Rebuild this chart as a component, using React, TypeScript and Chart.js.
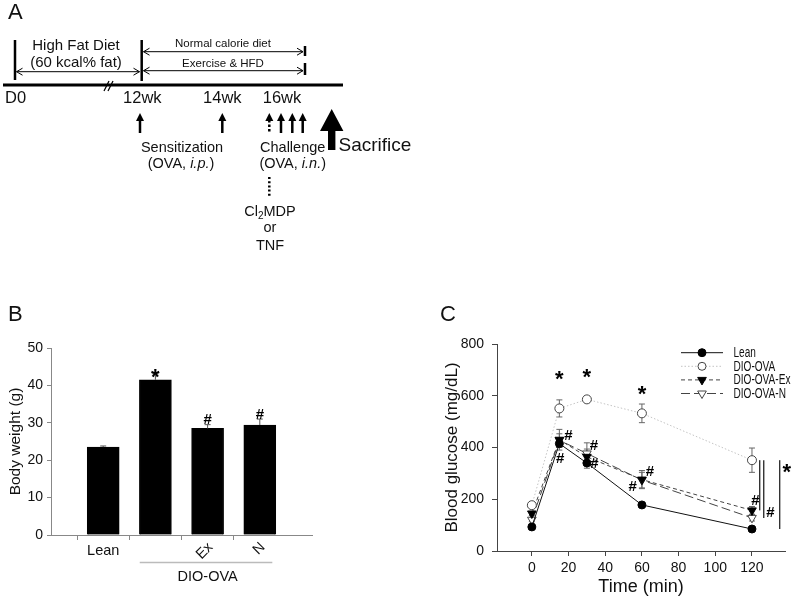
import React, { useEffect, useRef } from 'react';
import { Chart, registerables } from 'chart.js';

Chart.register(...registerables);

const FONT = '"Liberation Sans", Arial, Helvetica, sans-serif';

// ---------- Panel B data ----------
const bCategories = ['', 'Lean', '', 'Ex', 'N', ''];
const bBodyWeight = [null, 23.5, 41.5, 28.5, 29.4, null];
const bBodyWeightSem = [0, 0.3, 1.6, 1.0, 1.6, 0];
const bYTicks = [0, 10, 20, 30, 40, 50];
const bMarkText = ['*', '#', '#'];
const bMarkIndex = [2, 3, 4];
const bMarkValue = [43.7, 31.2, 32.5];
const bGroupLabel = 'DIO-OVA';
const bGroupSpan = [1.7, 4.24];

// ---------- Panel C data ----------
const cTimes = [0, 15, 30, 60, 120];
const cTimeTicks = [0, 20, 40, 60, 80, 100, 120];
const cGlucoseTicks = [0, 200, 400, 600, 800];
const cSeriesLabels = ['Lean', 'DIO-OVA', 'DIO-OVA-Ex', 'DIO-OVA-N'];
const leanGlucose = [93, 415, 340, 178, 85];
const leanSem = [5, 15, 20, 6, 5];
const dioGlucose = [177, 551, 586, 532, 351];
const dioSem = [8, 33, 8, 36, 47];
const exGlucose = [145, 430, 364, 276, 157];
const exSem = [8, 40, 30, 35, 15];
const nGlucose = [121, 428, 377, 274, 128];
const nSem = [8, 25, 41, 30, 12];
const cMarkText = ['*', '*', '*', '#', '#', '#', '#', '#', '#', '#', '#', '*'];
const cMarkX = [15, 30, 60, 19.9, 15.4, 33.9, 34.1, 64.4, 55, 121.9, 130, 139];
const cMarkY = [684, 693, 628, 448, 362, 412, 341, 312, 254, 200, 151, 325];
const cBracketX = [124.2, 126.4, 135.1];
const cBracketTo = [exGlucose[4], nGlucose[4], leanGlucose[4]];

function glyphBaseline(text: string, center: number) {
  return text === '*' ? center + 12 : center + 5.3;
}

function drawMarker(ctx: CanvasRenderingContext2D, style: string, x: number, y: number, r: number, fill: string, stroke: string) {
  ctx.save();
  ctx.setLineDash([]);
  ctx.fillStyle = fill;
  ctx.strokeStyle = stroke;
  ctx.lineWidth = 1;
  ctx.beginPath();
  if (style === 'circle') {
    ctx.arc(x, y, r, 0, Math.PI * 2);
  } else {
    ctx.moveTo(x, y + r);
    ctx.lineTo(x - r * 0.866, y - r * 0.5);
    ctx.lineTo(x + r * 0.866, y - r * 0.5);
    ctx.closePath();
  }
  ctx.fill();
  ctx.stroke();
  ctx.restore();
}

const bPlugin = {
  id: 'bExtras',
  afterDatasetsDraw(chart: any) {
    const { ctx } = chart;
    const x = chart.scales.x;
    const y = chart.scales.y;
    ctx.save();
    ctx.strokeStyle = '#555';
    ctx.lineWidth = 1;
    bBodyWeight.forEach((v, i) => {
      if (v == null || !bBodyWeightSem[i]) return;
      const px = x.getPixelForValue(i);
      const y0 = y.getPixelForValue(v);
      const y1 = y.getPixelForValue(v + bBodyWeightSem[i]);
      ctx.beginPath();
      ctx.moveTo(px, y0);
      ctx.lineTo(px, y1);
      ctx.moveTo(px - 3, y1);
      ctx.lineTo(px + 3, y1);
      ctx.stroke();
    });
    ctx.fillStyle = '#000';
    ctx.textAlign = 'center';
    ctx.textBaseline = 'alphabetic';
    bMarkText.forEach((t, k) => {
      ctx.font = t === '*' ? `bold 22px ${FONT}` : `bold 15px ${FONT}`;
      const px = x.getPixelForValue(bMarkIndex[k]);
      const py = y.getPixelForValue(bMarkValue[k]);
      ctx.fillText(t, px, glyphBaseline(t, py));
    });
    ctx.fillStyle = '#111';
    ctx.font = `14.5px ${FONT}`;
    bCategories.forEach((lab, i) => {
      if (!lab) return;
      const px = x.getPixelForValue(i);
      if (i >= 3) {
        ctx.save();
        ctx.translate(px + 3, y.bottom + 10);
        ctx.rotate(-Math.PI / 4);
        ctx.textAlign = 'right';
        ctx.textBaseline = 'middle';
        ctx.fillText(lab, 0, 0);
        ctx.restore();
      } else {
        ctx.textAlign = 'center';
        ctx.textBaseline = 'alphabetic';
        ctx.fillText(lab, px, y.bottom + 19.5);
      }
    });
    ctx.strokeStyle = '#bbb';
    ctx.lineWidth = 1.5;
    ctx.beginPath();
    ctx.moveTo(x.getPixelForValue(bGroupSpan[0]), y.bottom + 27.5);
    ctx.lineTo(x.getPixelForValue(bGroupSpan[1]), y.bottom + 27.5);
    ctx.stroke();
    ctx.fillStyle = '#111';
    ctx.textAlign = 'center';
    ctx.textBaseline = 'alphabetic';
    ctx.font = `14.5px ${FONT}`;
    ctx.fillText(bGroupLabel, x.getPixelForValue((bGroupSpan[0] + bGroupSpan[1]) / 2 + 0.03), y.bottom + 45.5);
    ctx.restore();
  },
};

const cSeries = [leanGlucose, dioGlucose, exGlucose, nGlucose];
const cSems = [leanSem, dioSem, exSem, nSem];
const cMarkerStyle = ['circle', 'circle', 'tri', 'tri'];
const cMarkerFill = ['#000', '#fff', '#000', '#fff'];
const cMarkerStroke = ['#000', '#444', '#000', '#444'];

const cPlugin = {
  id: 'cExtras',
  beforeDatasetsDraw(chart: any) {
    const { ctx } = chart;
    const x = chart.scales.x;
    const y = chart.scales.y;
    ctx.save();
    ctx.strokeStyle = '#666';
    ctx.lineWidth = 1;
    cSeries.forEach((vals, s) => {
      vals.forEach((v, i) => {
        const e = cSems[s][i];
        if (!e) return;
        const px = x.getPixelForValue(cTimes[i]);
        const yt = y.getPixelForValue(v + e);
        const yb = y.getPixelForValue(v - e);
        ctx.beginPath();
        ctx.moveTo(px, yt);
        ctx.lineTo(px, yb);
        ctx.moveTo(px - 3, yt);
        ctx.lineTo(px + 3, yt);
        ctx.moveTo(px - 3, yb);
        ctx.lineTo(px + 3, yb);
        ctx.stroke();
      });
    });
    ctx.restore();
  },
  afterDraw(chart: any) {
    const { ctx, chartArea } = chart;
    const x = chart.scales.x;
    const y = chart.scales.y;
    ctx.save();
    ctx.strokeStyle = '#333';
    ctx.lineWidth = 1.4;
    cBracketX.forEach((bx, k) => {
      const px = x.getPixelForValue(bx);
      ctx.beginPath();
      ctx.moveTo(px, y.getPixelForValue(dioGlucose[4]));
      ctx.lineTo(px, y.getPixelForValue(cBracketTo[k]));
      ctx.stroke();
    });
    ctx.fillStyle = '#000';
    ctx.textAlign = 'center';
    ctx.textBaseline = 'alphabetic';
    cMarkText.forEach((t, k) => {
      ctx.font = t === '*' ? `bold 22px ${FONT}` : `bold 15px ${FONT}`;
      const px = x.getPixelForValue(cMarkX[k]);
      const py = y.getPixelForValue(cMarkY[k]);
      ctx.fillText(t, px, glyphBaseline(t, py));
    });
    const ds = chart.data.datasets;
    const lx0 = chartArea.left + 184;
    const lx1 = chartArea.left + 226;
    ds.forEach((d: any, i: number) => {
      const ly = chartArea.top + 8.7 + i * 13.6;
      ctx.save();
      ctx.strokeStyle = d.borderColor;
      ctx.lineWidth = d.borderWidth;
      ctx.setLineDash(d.borderDash || []);
      ctx.beginPath();
      ctx.moveTo(lx0, ly);
      ctx.lineTo(lx1, ly);
      ctx.stroke();
      ctx.restore();
      drawMarker(ctx, cMarkerStyle[i], (lx0 + lx1) / 2, ly, cMarkerStyle[i] === 'circle' ? 4 : 5, cMarkerFill[i], cMarkerStroke[i]);
      ctx.save();
      ctx.fillStyle = '#111';
      ctx.font = `14px ${FONT}`;
      ctx.textAlign = 'left';
      ctx.textBaseline = 'middle';
      ctx.translate(chartArea.left + 236.5, ly + 0.5);
      ctx.scale(0.72, 1);
      ctx.fillText(d.label, 0, 0);
      ctx.restore();
    });
    ctx.restore();
  },
};

function UpArrow({ x, dashed }: { x: number; dashed?: boolean }) {
  return (
    <g>
      <line x1={x} y1={120} x2={x} y2={133} stroke="#000" strokeWidth={2.5} strokeDasharray={dashed ? '2.5 2' : undefined} />
      <polygon points={`${x},113 ${x - 4},121 ${x + 4},121`} fill="#000" />
    </g>
  );
}

function DoubleArrow({ x1, x2, y }: { x1: number; x2: number; y: number }) {
  return (
    <g stroke="#000" strokeWidth={1} fill="none">
      <line x1={x1} y1={y} x2={x2} y2={y} />
      <path d={`M${x1 + 6} ${y - 3.5} L${x1} ${y} L${x1 + 6} ${y + 3.5}`} />
      <path d={`M${x2 - 6} ${y - 3.5} L${x2} ${y} L${x2 - 6} ${y + 3.5}`} />
    </g>
  );
}

export default function App() {
  const bRef = useRef<HTMLCanvasElement>(null);
  const cRef = useRef<HTMLCanvasElement>(null);

  useEffect(() => {
    const chartB = new Chart(bRef.current as HTMLCanvasElement, {
      type: 'bar',
      data: {
        labels: bCategories,
        datasets: [
          {
            label: 'Body weight (g)',
            data: bBodyWeight as any,
            backgroundColor: '#000',
            borderColor: '#000',
            borderWidth: 1,
            barThickness: 32,
          },
        ],
      },
      options: {
        animation: false,
        responsive: true,
        maintainAspectRatio: false,
        layout: { padding: { left: 0, right: 88, top: 48, bottom: 0 } },
        plugins: { legend: { display: false }, tooltip: { enabled: false } },
        scales: {
          x: {
            type: 'category',
            offset: false,
            ticks: { display: false },
            grid: {
              display: true,
              drawOnChartArea: false,
              drawTicks: true,
              tickLength: 5,
              color: '#888',
              tickColor: (c: any) => (c.index === 0 || c.index === bCategories.length - 1 ? 'rgba(0,0,0,0)' : '#888'),
            },
            border: { color: '#888', width: 1 },
            afterFit: (s: any) => {
              s.height = 67;
            },
          },
          y: {
            min: 0,
            max: 50,
            afterBuildTicks: (s: any) => {
              s.ticks = bYTicks.map((v) => ({ value: v }));
            },
            ticks: { color: '#111', font: { family: FONT, size: 14 }, padding: 4 },
            grid: { drawOnChartArea: false, tickLength: 4, color: '#888' },
            border: { color: '#888', width: 1 },
            title: {
              display: true,
              text: 'Body weight (g)',
              color: '#111',
              font: { family: FONT, size: 15.5 },
              padding: { top: 6, bottom: 0 },
            },
            afterFit: (s: any) => {
              s.width = 51;
            },
          },
        },
      } as any,
      plugins: [bPlugin],
    });

    const pts = (vals: number[]) => cTimes.map((t, i) => ({ x: t, y: vals[i] }));
    const chartC = new Chart(cRef.current as HTMLCanvasElement, {
      type: 'line',
      data: {
        datasets: [
          {
            label: cSeriesLabels[0],
            data: pts(leanGlucose),
            borderColor: '#111',
            borderWidth: 1,
            pointStyle: 'circle',
            pointRadius: 4,
            pointBackgroundColor: '#000',
            pointBorderColor: '#000',
            pointBorderWidth: 1,
          },
          {
            label: cSeriesLabels[1],
            data: pts(dioGlucose),
            borderColor: '#c4c4c4',
            borderDash: [1.5, 2],
            borderWidth: 1,
            pointStyle: 'circle',
            pointRadius: 4.5,
            pointBackgroundColor: '#fff',
            pointBorderColor: '#444',
            pointBorderWidth: 1,
          },
          {
            label: cSeriesLabels[2],
            data: pts(exGlucose),
            borderColor: '#444',
            borderDash: [4, 3],
            borderWidth: 1,
            pointStyle: 'triangle',
            pointRotation: 180,
            pointRadius: 5,
            pointBackgroundColor: '#000',
            pointBorderColor: '#000',
            pointBorderWidth: 1,
          },
          {
            label: cSeriesLabels[3],
            data: pts(nGlucose),
            borderColor: '#444',
            borderDash: [9, 4],
            borderWidth: 1,
            pointStyle: 'triangle',
            pointRotation: 180,
            pointRadius: 5,
            pointBackgroundColor: '#fff',
            pointBorderColor: '#444',
            pointBorderWidth: 1,
          },
        ],
      },
      options: {
        animation: false,
        responsive: true,
        maintainAspectRatio: false,
        layout: { padding: { left: 0, right: 15, top: 44, bottom: 0 } },
        plugins: { legend: { display: false }, tooltip: { enabled: false } },
        scales: {
          x: {
            type: 'linear',
            min: -19,
            max: 138,
            afterBuildTicks: (s: any) => {
              s.ticks = cTimeTicks.map((v) => ({ value: v }));
            },
            ticks: { color: '#111', font: { family: FONT, size: 14 }, padding: 4 },
            grid: { drawOnChartArea: false, tickLength: 5, color: '#444' },
            border: { color: '#444', width: 1 },
            title: {
              display: true,
              text: 'Time (min)',
              color: '#111',
              font: { family: FONT, size: 18 },
              padding: { top: 0, bottom: 4 },
            },
            afterFit: (s: any) => {
              s.height = 51;
            },
          },
          y: {
            min: 0,
            max: 800,
            afterBuildTicks: (s: any) => {
              s.ticks = cGlucoseTicks.map((v) => ({ value: v }));
            },
            ticks: { color: '#111', font: { family: FONT, size: 14 }, padding: 8 },
            grid: { drawOnChartArea: false, tickLength: 5, color: '#444' },
            border: { color: '#444', width: 1 },
            title: {
              display: true,
              text: 'Blood glucose (mg/dL)',
              color: '#111',
              font: { family: FONT, size: 17 },
              padding: { top: 42, bottom: 0 },
            },
            afterFit: (s: any) => {
              s.width = 97;
            },
          },
        },
      } as any,
      plugins: [cPlugin],
    });

    return () => {
      chartB.destroy();
      chartC.destroy();
    };
  }, []);

  return (
    <div style={{ position: 'fixed', left: 0, top: 0, width: 800, height: 602, background: '#fff', overflow: 'hidden' }}>
      <div style={{ position: 'absolute', left: 0, top: 300, width: 400, height: 302 }}>
        <canvas ref={bRef} />
      </div>
      <div style={{ position: 'absolute', left: 400, top: 300, width: 400, height: 302 }}>
        <canvas ref={cRef} />
      </div>
      <svg
        width={800}
        height={602}
        style={{ position: 'absolute', left: 0, top: 0, pointerEvents: 'none' }}
        fontFamily={FONT}
        fill="#111"
      >
        <text x={8} y={19} fontSize={22}>A</text>
        <text x={8} y={321} fontSize={22}>B</text>
        <text x={440} y={321} fontSize={22}>C</text>

        <line x1={3} y1={85} x2={343} y2={85} stroke="#000" strokeWidth={3} />
        <line x1={15} y1={40} x2={15} y2={80} stroke="#000" strokeWidth={2.5} />
        <line x1={141.7} y1={40} x2={141.7} y2={81} stroke="#000" strokeWidth={2.5} />
        <line x1={305} y1={46} x2={305} y2={56} stroke="#000" strokeWidth={2.5} />
        <line x1={305} y1={63} x2={305} y2={75} stroke="#000" strokeWidth={2.5} />
        <line x1={104} y1={91} x2={109} y2={81} stroke="#000" strokeWidth={1.2} />
        <line x1={108} y1={91} x2={113} y2={81} stroke="#000" strokeWidth={1.2} />

        <DoubleArrow x1={16.5} x2={139.5} y={71.7} />
        <DoubleArrow x1={143.5} x2={303} y={51.7} />
        <DoubleArrow x1={143.5} x2={303} y={70.7} />

        <text x={76} y={50} fontSize={15} textAnchor="middle">High Fat Diet</text>
        <text x={76} y={66.5} fontSize={15} textAnchor="middle">(60 kcal% fat)</text>
        <text x={223} y={47} fontSize={11.5} textAnchor="middle">Normal calorie diet</text>
        <text x={223} y={66.5} fontSize={11.5} textAnchor="middle">Exercise &amp; HFD</text>

        <text x={5} y={102.5} fontSize={16.5}>D0</text>
        <text x={142.3} y={102.5} fontSize={16.5} textAnchor="middle">12wk</text>
        <text x={222.3} y={102.5} fontSize={16.5} textAnchor="middle">14wk</text>
        <text x={282} y={102.5} fontSize={16.5} textAnchor="middle">16wk</text>

        <UpArrow x={140} />
        <UpArrow x={222.3} />
        <UpArrow x={269.3} dashed />
        <UpArrow x={281} />
        <UpArrow x={292.3} />
        <UpArrow x={302.7} />

        <polygon points="331.7,109 320,131 328,131 328,150 335.4,150 335.4,131 343.4,131" fill="#000" />
        <text x={338.5} y={151} fontSize={19}>Sacrifice</text>

        <text x={182} y={152} fontSize={14.5} textAnchor="middle">Sensitization</text>
        <text x={181} y={168} fontSize={14.5} textAnchor="middle">
          (OVA, <tspan fontStyle="italic">i.p.</tspan>)
        </text>
        <text x={292.7} y={152} fontSize={14.5} textAnchor="middle">Challenge</text>
        <text x={292.7} y={168} fontSize={14.5} textAnchor="middle">
          (OVA, <tspan fontStyle="italic">i.n.</tspan>)
        </text>

        <line x1={269.3} y1={177} x2={269.3} y2={198} stroke="#000" strokeWidth={2.5} strokeDasharray="2 2.2" />
        <text x={270} y={215.5} fontSize={14.5} textAnchor="middle">
          Cl<tspan fontSize={10} dy={3}>2</tspan>
          <tspan dy={-3}>MDP</tspan>
        </text>
        <text x={270} y={232} fontSize={14.5} textAnchor="middle">or</text>
        <text x={270} y={249.5} fontSize={14.5} textAnchor="middle">TNF</text>
      </svg>
    </div>
  );
}
